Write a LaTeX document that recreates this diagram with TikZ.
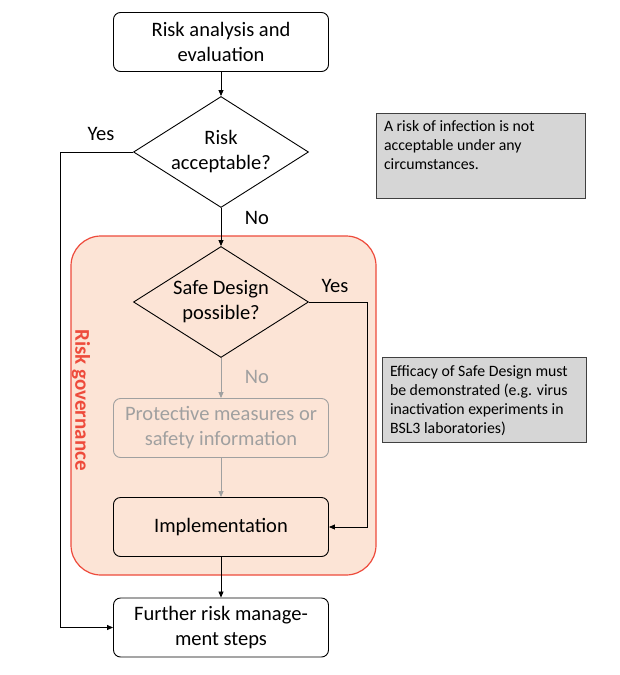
\documentclass[tikz,border=0pt]{standalone}
\usepackage{fontspec}
\setmainfont{Carlito}
\usetikzlibrary{shapes.geometric,arrows.meta}
\definecolor{govfill}{HTML}{FCE4D6}
\definecolor{govred}{HTML}{EE4B3C}
\definecolor{notegray}{HTML}{D6D6D6}
\definecolor{fadegray}{HTML}{A0A0A0}

\begin{document}
\begin{tikzpicture}[x=1pt,y=-1pt]
				\tikzstyle{every node}=[font=\fontsize{20.5}{25}\selectfont]
				\tikzstyle{procbox}=[draw,rounded corners=7pt,minimum width=215pt,
				minimum height=59pt,align=center,line width=0.9pt]
				\tikzstyle{decision}=[draw,diamond,aspect=1.58,minimum width=175pt,
				minimum height=111pt,inner sep=0pt,align=center,line width=0.9pt]
				\tikzstyle{govbox}=[draw=govred,fill=govfill,rounded corners=30pt,
				minimum width=305pt,minimum height=339pt,line width=1.2pt]
				\tikzstyle{note}=[draw=black!75,fill=notegray,inner xsep=8pt,inner ysep=8pt,
				line width=0.8pt,font=\fontsize{15.8}{19}\selectfont]
				\tikzstyle{arrow}=[-{Triangle[length=6pt,width=5pt]},line width=0.8pt]
				\useasboundingbox[fill=white] (0,0) rectangle (620,675);
				\node[govbox] (governance) at (223.5,405.5) {};
				\node[rotate=-90,text=govred,font=\fontsize{21}{24}\selectfont\bfseries] (govlabel) at (81,400) {Risk governance};
				\node[procbox] (analysis) at (221,42) {Risk analysis and\\evaluation};
				\node[decision] (acceptable) at (221,152) {Risk\\acceptable?};
				\node[decision] (safedesign) at (221,302) {Safe Design\\possible?};
				\node[procbox,draw=fadegray,text=fadegray] (protective) at (221,428) {Protective measures or\\safety information};
				\node[procbox] (implementation) at (221,527) {Implementation};
				\node[procbox] (further) at (221,627.5) {Further risk manage-\\ment steps};
				\node (yesa) at (101,134) {Yes};
				\node (noa) at (257,218) {No};
				\node (yesb) at (335,286) {Yes};
				\node[text=fadegray] (nob) at (257,377) {No};
				\node[note] (infection) at (480.5,155.5) {\parbox[t][69pt][t]{193pt}{\raggedright
				\mbox{A risk of infection is not}\\\mbox{acceptable under any}\\\mbox{circumstances.}}};
				\node[note] (efficacy) at (484,400) {\parbox[t][69pt][t]{188pt}{\raggedright
				\mbox{Efficacy of Safe Design must}\\\mbox{be demonstrated (e.g. virus}\\
				\mbox{inactivation experiments in}\\\mbox{BSL3 laboratories)}}};
				\coordinate (yesbend) at (60,152);
				\coordinate (safebend) at (367,302);
				\draw[arrow] (analysis) -- (acceptable);
				\draw[arrow] (acceptable) -- (safedesign);
				\draw[arrow] (acceptable.west) -- (yesbend) |- (further.west);
				\draw[arrow] (safedesign.east) -- (safebend) |- (implementation.east);
				\draw[arrow,fadegray] (safedesign) -- (protective);
				\draw[arrow,fadegray] (protective) -- (implementation);
				\draw[arrow] (implementation) -- (further);
\end{tikzpicture}
\end{document}
